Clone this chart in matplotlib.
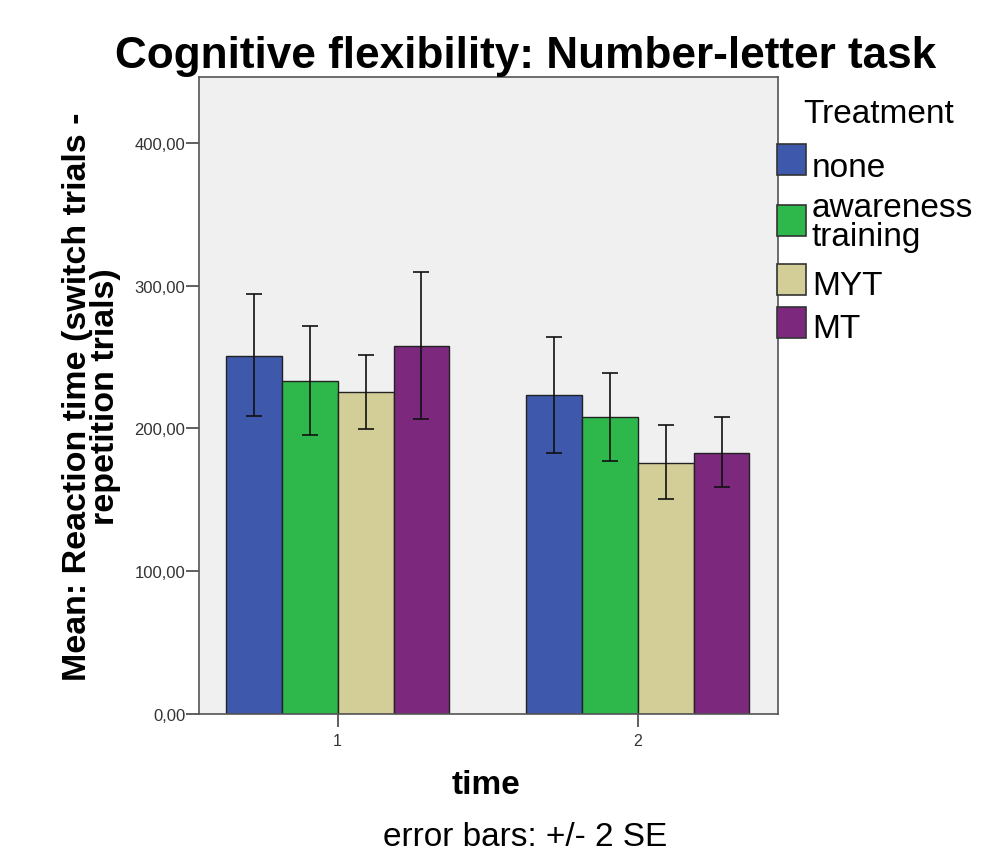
import matplotlib
matplotlib.use("Agg")
import matplotlib.pyplot as plt
import numpy as np
from matplotlib.ticker import FuncFormatter
from matplotlib.patches import Rectangle

plt.rcParams['font.family'] = ['Liberation Sans', 'DejaVu Sans']

times = ["1", "2"]
treatments = ["none", "awareness\ntraining", "MYT", "MT"]
colors = ["#3E58AC", "#2EB84B", "#D3CE97", "#7B287D"]

means = {
    "none": [251.0, 223.5],
    "awareness\ntraining": [233.0, 208.0],
    "MYT": [225.5, 176.0],
    "MT": [258.0, 183.0],
}
err_hi = {
    "none": [294.0, 264.3],
    "awareness\ntraining": [271.6, 239.0],
    "MYT": [251.5, 202.0],
    "MT": [309.3, 207.6],
}
err_lo = {
    "none": [208.3, 183.0],
    "awareness\ntraining": [195.0, 177.2],
    "MYT": [199.6, 150.6],
    "MT": [206.4, 159.0],
}

W, H = 1008, 854
fig = plt.figure(figsize=(W / 100, H / 100), dpi=100)
ax = fig.add_axes([199 / W, 1 - 715 / H, (778 - 199) / W, (715 - 78) / H])
ax.set_facecolor("#F0F0F0")

x = np.arange(1, len(times) + 1)
w = 0.186
for i, t in enumerate(treatments):
    pos = x + (i - 1.5) * w
    m = np.array(means[t])
    lo = m - np.array(err_lo[t])
    hi = np.array(err_hi[t]) - m
    ax.bar(pos, m, width=w, color=colors[i], edgecolor="#222222", linewidth=1.0,
           label=t, zorder=2)
    ax.errorbar(pos, m, yerr=[lo, hi], fmt="none", ecolor="#111111",
                elinewidth=1.2, capsize=6, capthick=1.2, zorder=3)

ax.set_xlim(0.538, 2.467)
ax.set_ylim(0, 446)
ax.set_xticks(x)
ax.set_xticklabels(times, fontsize=11.5, color="#333333")
ax.set_yticks([0, 100, 200, 300, 400])
ax.yaxis.set_major_formatter(FuncFormatter(lambda v, p: f"{v:.2f}".replace(".", ",")))
ax.tick_params(axis="y", labelsize=12, labelcolor="#333333", length=9.4, width=1.2,
               color="#444444", pad=0.5)
ax.tick_params(axis="x", length=9.4, width=1.2, color="#444444", pad=4)
for s in ax.spines.values():
    s.set_color("#555555")
    s.set_linewidth(1.2)

ylab = ax.set_ylabel("Mean: Reaction time (switch trials -\nrepetition trials)",
                     fontsize=24.5, fontweight="bold")
ylab.set_linespacing(0.88)
ax.yaxis.set_label_coords(-0.135, 0.5)

fig.text(526 / W, 1 - 68 / H, "Cognitive flexibility: Number-letter task",
         fontsize=31.8, fontweight="bold", ha="center", va="baseline")
fig.text(486 / W, 1 - 794 / H, "time", fontsize=24, fontweight="bold",
         ha="center", va="baseline")
fig.text(525 / W, 1 - 846 / H, "error bars: +/- 2 SE", fontsize=24,
         ha="center", va="baseline")

# legend (drawn in figure pixel positions)
fig.text(803 / W, 1 - 123 / H, "Treatment", fontsize=24, ha="left", va="baseline")
patch_tops = [145, 206, 265, 308]
text_base = [177, 217, 295, 338]
for i, t in enumerate(treatments):
    fig.add_artist(Rectangle((777 / W, 1 - (patch_tops[i] + 31) / H), 29 / W, 31 / H,
                             transform=fig.transFigure, facecolor=colors[i],
                             edgecolor="#333333", linewidth=1.2))
    lines = t.split("\n")
    for j, ln in enumerate(lines):
        fig.text(812 / W, 1 - (text_base[i] + 29 * j) / H, ln, fontsize=24,
                 ha="left", va="baseline")

fig.savefig("out.png", dpi=100, facecolor="white")
